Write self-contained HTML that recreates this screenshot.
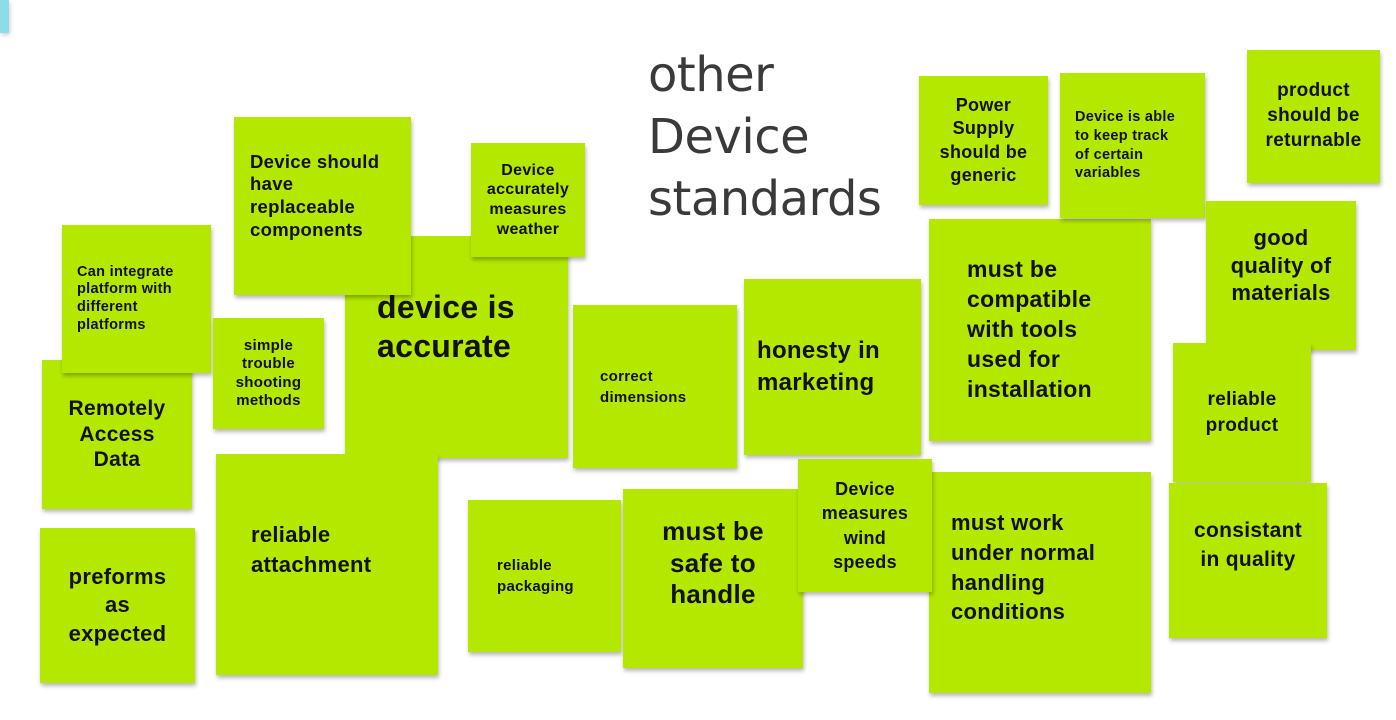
<!DOCTYPE html>
<html><head><meta charset="utf-8"><style>
body{margin:0;width:1396px;height:720px;background:#fff;position:relative;overflow:hidden;font-family:"Liberation Sans",sans-serif}
.n{position:absolute;background:#b5e800;box-shadow:1px 3px 4px rgba(0,0,0,.28);display:flex;align-items:center;justify-content:center;font-weight:bold;color:#111;box-sizing:border-box;line-height:1.22;letter-spacing:.3px}
.l{justify-content:flex-start;text-align:left}
.c{text-align:center}
.t{position:absolute;left:648px;top:44px;font-size:48px;color:#3a3a3a;line-height:62px;font-family:"DejaVu Sans","Liberation Sans",sans-serif;font-weight:normal;letter-spacing:-0.5px}
</style></head><body>
<div style="position:absolute;left:0;top:0;width:9px;height:33px;background:#8cdde8;box-shadow:1px 2px 4px rgba(0,0,0,.2)"></div>
<div class="t">other<br>Device<br>standards</div>

<div class="n l" style="left:42px;top:360px;width:150px;height:149px;font-size:21px;justify-content:center;text-align:center">Remotely<br>Access<br>Data</div>
<div class="n l" style="left:62px;top:225px;width:149px;height:148px;padding:0 0 0 15px;font-size:14.5px">Can integrate<br>platform with<br>different<br>platforms</div>
<div class="n c" style="left:213px;top:318px;width:111px;height:111px;font-size:15px">simple<br>trouble<br>shooting<br>methods</div>
<div class="n l" style="left:345px;top:236px;width:223px;height:222px;padding:0 0 40px 32px;font-size:32px">device is<br>accurate</div>
<div class="n l" style="left:234px;top:117px;width:177px;height:178px;padding:0 0 20px 16px;font-size:18.5px">Device should<br>have<br>replaceable<br>components</div>
<div class="n c" style="left:471px;top:143px;width:114px;height:114px;font-size:16px">Device<br>accurately<br>measures<br>weather</div>
<div class="n l" style="left:216px;top:454px;width:222px;height:221px;padding:0 0 30px 35px;font-size:22px;line-height:1.35">reliable<br>attachment</div>
<div class="n c" style="left:40px;top:528px;width:155px;height:155px;font-size:22px;line-height:1.3">preforms<br>as<br>expected</div>
<div class="n l" style="left:573px;top:305px;width:164px;height:163px;padding:0 0 0 27px;font-size:15px;line-height:1.4">correct<br>dimensions</div>
<div class="n l" style="left:744px;top:279px;width:177px;height:176px;padding:0 0 0 13px;font-size:24px;line-height:1.35">honesty in<br>marketing</div>
<div class="n l" style="left:468px;top:500px;width:153px;height:152px;padding:0 0 0 29px;font-size:15px;line-height:1.4">reliable<br>packaging</div>
<div class="n c" style="left:623px;top:489px;width:180px;height:179px;padding-bottom:30px;font-size:26px">must be<br>safe to<br>handle</div>
<div class="n l" style="left:929px;top:472px;width:222px;height:221px;padding:0 0 30px 22px;font-size:22px;line-height:1.35">must work<br>under normal<br>handling<br>conditions</div>
<div class="n c" style="left:798px;top:459px;width:134px;height:133px;font-size:18px;line-height:1.35">Device<br>measures<br>wind<br>speeds</div>
<div class="n l" style="left:929px;top:219px;width:222px;height:222px;padding:0 0 0 38px;font-size:23px;line-height:1.3">must be<br>compatible<br>with tools<br>used for<br>installation</div>
<div class="n c" style="left:919px;top:76px;width:129px;height:129px;font-size:18px;line-height:1.3">Power<br>Supply<br>should be<br>generic</div>
<div class="n l" style="left:1060px;top:73px;width:145px;height:145px;padding:0 0 0 15px;font-size:14.5px;line-height:1.3">Device is able<br>to keep track<br>of certain<br>variables</div>
<div class="n c" style="left:1247px;top:50px;width:133px;height:133px;font-size:19px;line-height:1.3">product<br>should be<br>returnable</div>
<div class="n c" style="left:1206px;top:201px;width:150px;height:149px;padding-bottom:20px;font-size:22px;line-height:1.25">good<br>quality of<br>materials</div>
<div class="n c" style="left:1173px;top:343px;width:138px;height:139px;font-size:19px;line-height:1.35">reliable<br>product</div>
<div class="n c" style="left:1169px;top:483px;width:158px;height:155px;padding-bottom:30px;font-size:21px;line-height:1.35">consistant<br>in quality</div>
</body></html>
